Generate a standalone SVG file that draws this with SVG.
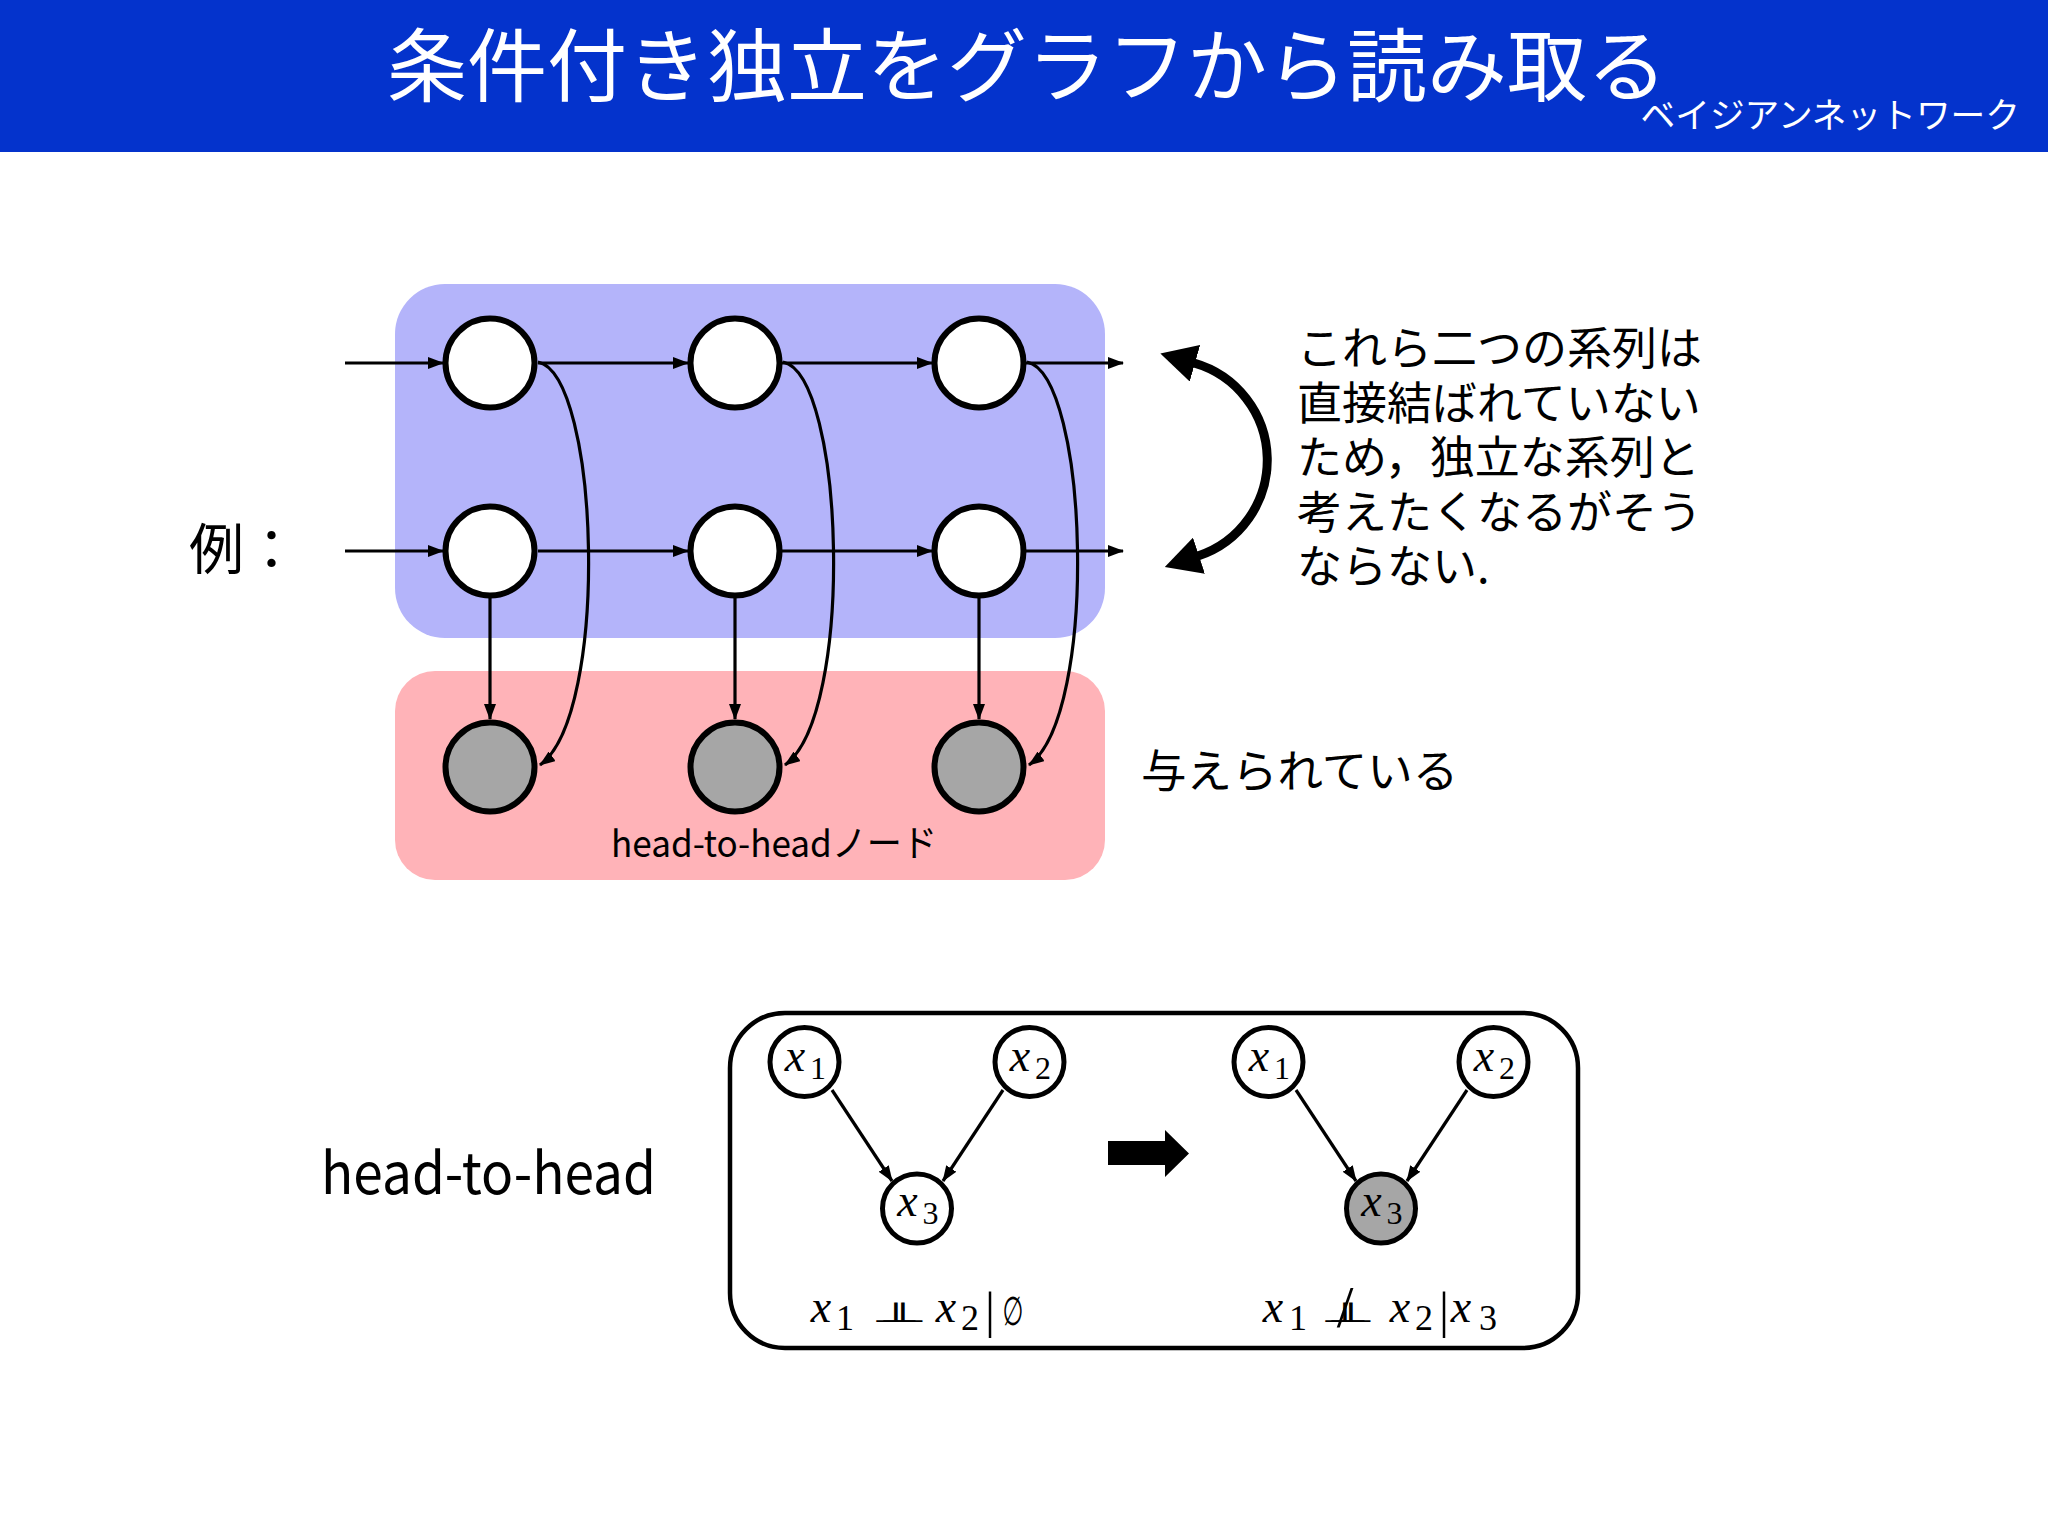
<svg xmlns="http://www.w3.org/2000/svg" width="2048" height="1536" viewBox="0 0 2048 1536">
<style>
.jp{font-family:"Noto Sans CJK JP","Noto Sans",sans-serif;fill:#000}
.node{fill:#fff;stroke:#000;stroke-width:6}
.gnode{fill:#a6a6a6;stroke:#000;stroke-width:6}
.sn{fill:#fff;stroke:#000;stroke-width:5}
.sg{fill:#a6a6a6;stroke:#000;stroke-width:5}
.ln{stroke:#000;stroke-width:3.2;fill:none}
.mi{font-family:"Liberation Serif","DejaVu Serif",serif;font-style:italic;font-size:46px;text-anchor:middle;fill:#000}
.mr{font-family:"Liberation Serif","DejaVu Serif",serif;text-anchor:middle;fill:#000}
.sym{font-family:"DejaVu Sans",sans-serif;fill:#000;text-anchor:middle}
</style>
<defs>
<marker id="ah" viewBox="0 0 16 12" refX="15" refY="6" markerWidth="16" markerHeight="12" markerUnits="userSpaceOnUse" orient="auto"><path d="M0,0 L16,6 L0,12 z" fill="#000"/></marker>
<marker id="bh" viewBox="0 0 36 38" refX="1" refY="19" markerWidth="36" markerHeight="38" markerUnits="userSpaceOnUse" orient="auto-start-reverse"><path d="M0,0 L36,19 L0,38 z" fill="#000"/></marker>
</defs>
<rect width="2048" height="1536" fill="#fff"/>
<g id="header">
<rect x="0" y="0" width="2048" height="152" fill="#0433cc"/>
<text class="jp" x="387" y="95" font-size="80" style="fill:#fff">条件付き独立をグラフから読み取る</text>
<text class="jp" x="2020" y="128" font-size="34.7" text-anchor="end" style="fill:#fff">ベイジアンネットワーク</text>
</g>
<g id="panels">
<rect x="395" y="284" width="710" height="354" rx="50" fill="#b4b4fa"/>
<rect x="395" y="671" width="710" height="209" rx="40" fill="#ffb3b8"/>
</g>
<text class="jp" x="189" y="569" font-size="55">例：</text>
<g id="connectors">
<line class="ln" x1="345" y1="363" x2="443" y2="363" marker-end="url(#ah)"/>
<line class="ln" x1="538" y1="363" x2="688" y2="363" marker-end="url(#ah)"/>
<line class="ln" x1="782" y1="363" x2="932" y2="363" marker-end="url(#ah)"/>
<line class="ln" x1="1026" y1="363" x2="1123" y2="363" marker-end="url(#ah)"/>
<line class="ln" x1="345" y1="551" x2="443" y2="551" marker-end="url(#ah)"/>
<line class="ln" x1="538" y1="551" x2="688" y2="551" marker-end="url(#ah)"/>
<line class="ln" x1="782" y1="551" x2="932" y2="551" marker-end="url(#ah)"/>
<line class="ln" x1="1026" y1="551" x2="1123" y2="551" marker-end="url(#ah)"/>
<line class="ln" x1="490" y1="598" x2="490" y2="719" marker-end="url(#ah)"/>
<line class="ln" x1="735" y1="598" x2="735" y2="719" marker-end="url(#ah)"/>
<line class="ln" x1="979" y1="598" x2="979" y2="719" marker-end="url(#ah)"/>
<path class="ln" d="M538 362 C600 375 610 715 540 765" marker-end="url(#ah)"/>
<path class="ln" d="M783 362 C845 375 855 715 785 765" marker-end="url(#ah)"/>
<path class="ln" d="M1027 362 C1089 375 1099 715 1029 765" marker-end="url(#ah)"/>
<path d="M1194 363 A101 101 0 0 1 1198 556" fill="none" stroke="#000" stroke-width="9" marker-start="url(#bh)" marker-end="url(#bh)"/>
<line class="ln" x1="832" y1="1090" x2="892" y2="1181" marker-end="url(#ah)"/>
<line class="ln" x1="1003" y1="1090" x2="943" y2="1181" marker-end="url(#ah)"/>
<line class="ln" x1="1296" y1="1090" x2="1356" y2="1181" marker-end="url(#ah)"/>
<line class="ln" x1="1467" y1="1090" x2="1407" y2="1181" marker-end="url(#ah)"/>
</g>
<g id="n11"><circle class="node" cx="490" cy="363" r="44.5"/></g>
<g id="n12"><circle class="node" cx="735" cy="363" r="44.5"/></g>
<g id="n13"><circle class="node" cx="979" cy="363" r="44.5"/></g>
<g id="n21"><circle class="node" cx="490" cy="551" r="44.5"/></g>
<g id="n22"><circle class="node" cx="735" cy="551" r="44.5"/></g>
<g id="n23"><circle class="node" cx="979" cy="551" r="44.5"/></g>
<g id="n31"><circle class="gnode" cx="490" cy="767" r="44.5"/></g>
<g id="n32"><circle class="gnode" cx="735" cy="767" r="44.5"/></g>
<g id="n33"><circle class="gnode" cx="979" cy="767" r="44.5"/></g>
<text class="jp" x="611" y="857" font-size="37" textLength="326" lengthAdjust="spacingAndGlyphs">head-to-headノード</text>
<g id="note">
<text class="jp" font-size="45">
<tspan x="1297" y="365">これら二つの系列は</tspan>
<tspan x="1297" y="419.5">直接結ばれていない</tspan>
<tspan x="1297" y="474">ため，独立な系列と</tspan>
<tspan x="1297" y="528.5">考えたくなるがそう</tspan>
<tspan x="1297" y="583">ならない.</tspan>
</text>
</g>
<text class="jp" x="1141" y="788" font-size="45.5">与えられている</text>
<text class="jp" x="321" y="1194" font-size="58" textLength="335" lengthAdjust="spacingAndGlyphs">head-to-head</text>
<g id="box">
<rect x="730" y="1013" width="848" height="335" rx="55" fill="none" stroke="#000" stroke-width="4.5"/>
</g>
<g id="a1"><circle class="sn" cx="804.5" cy="1062" r="34.5"/><text class="mi" x="795" y="1071">x</text><text class="mr" x="818" y="1079" font-size="32">1</text></g>
<g id="a2"><circle class="sn" cx="1029.5" cy="1062" r="34.5"/><text class="mi" x="1020" y="1071">x</text><text class="mr" x="1043" y="1079" font-size="32">2</text></g>
<g id="a3"><circle class="sn" cx="917" cy="1208.5" r="34.5"/><text class="mi" x="907.5" y="1216">x</text><text class="mr" x="930.5" y="1224" font-size="32">3</text></g>
<g id="b1"><circle class="sn" cx="1268.5" cy="1062" r="34.5"/><text class="mi" x="1259" y="1071">x</text><text class="mr" x="1282" y="1079" font-size="32">1</text></g>
<g id="b2"><circle class="sn" cx="1493.5" cy="1062" r="34.5"/><text class="mi" x="1484" y="1071">x</text><text class="mr" x="1507" y="1079" font-size="32">2</text></g>
<g id="b3"><circle class="sg" cx="1381" cy="1208.5" r="34.5"/><text class="mi" x="1371.5" y="1216">x</text><text class="mr" x="1394.5" y="1224" font-size="32">3</text></g>
<polygon points="1108,1141 1165,1141 1165,1130 1189,1153.5 1165,1177 1165,1165 1108,1165" fill="#000"/>
<g id="formula1">
<text class="mi" x="821" y="1322">x</text><text class="mr" x="845" y="1330" font-size="36">1</text>
<text class="sym" font-size="28" transform="translate(896 1322) scale(2 1)">⊥</text>
<text class="sym" font-size="28" transform="translate(903 1322) scale(2 1)">⊥</text>
<text class="mi" x="946" y="1322">x</text><text class="mr" x="970" y="1330" font-size="36">2</text>
<text class="mr" x="990" y="1327" font-size="50">|</text>
<text class="sym" font-size="40" transform="translate(1013 1325) scale(0.6 1)">∅</text>
</g>
<g id="formula2">
<text class="mi" x="1273" y="1322">x</text><text class="mr" x="1298" y="1330" font-size="36">1</text>
<text class="sym" font-size="28" transform="translate(1345 1322) scale(2 1)">⊥</text>
<text class="sym" font-size="28" transform="translate(1351 1322) scale(2 1)">⊥</text>
<text class="mr" x="1345" y="1327" font-size="60">/</text>
<text class="mi" x="1400" y="1322">x</text><text class="mr" x="1424" y="1330" font-size="36">2</text>
<text class="mr" x="1444" y="1327" font-size="50">|</text>
<text class="mi" x="1461" y="1322">x</text><text class="mr" x="1488" y="1330" font-size="36">3</text>
</g>
</svg>
